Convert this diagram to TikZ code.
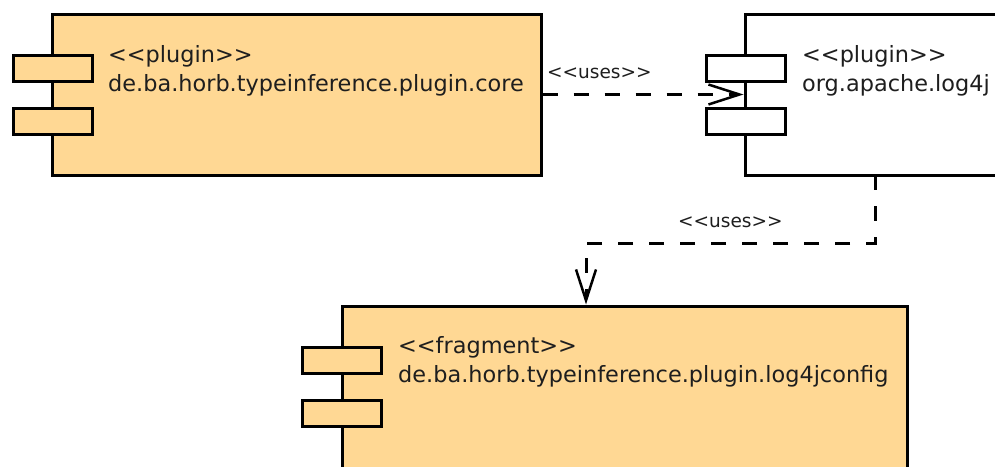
\documentclass[tikz,border=0pt]{standalone}
\usepackage{fontspec}
\setmainfont{DejaVu Sans}[Ligatures=TeXOff]
\usetikzlibrary{arrows.meta}
\definecolor{compfill}{RGB}{255,216,148}
\definecolor{txt}{RGB}{30,30,30}
\tikzset{
  comp/.style={draw=black, line width=3pt, fill=compfill, rectangle, inner sep=0pt},
  compw/.style={draw=black, line width=3pt, fill=white, rectangle, inner sep=0pt},
  tab/.style={draw=black, line width=3pt, rectangle, inner sep=0pt, minimum width=79pt, minimum height=26pt},
  lbl/.style={anchor=base west, inner sep=0pt, text=txt, font=\fontsize{22.4}{27}\selectfont},
  ulbl/.style={anchor=base west, inner sep=0pt, text=txt, font=\fontsize{18.5}{23}\selectfont},
  uses/.style={draw=black, line width=3pt, dash pattern=on 15pt off 16pt,
    -{Straight Barb[length=31pt,width=20pt,line width=2.5pt]}}
}
\begin{document}
\begin{tikzpicture}[x=1pt,y=-1pt]
\useasboundingbox (0,0) rectangle (995,466);
\clip (0,0) rectangle (995,466);
\fill[white] (0,0) rectangle (995,466);
% component boxes
\node[comp, minimum width=489pt, minimum height=161pt] (core) at (296.5,94.5) {};
\node[compw, minimum width=280pt, minimum height=161pt] (log) at (885,94.5) {};
\node[comp, minimum width=565pt, minimum height=230pt] (frag) at (624.5,421) {};
% tabs
\node[tab, fill=compfill] (coret1) at (52.5,68) {};
\node[tab, fill=compfill] (coret2) at (52.5,121.5) {};
\node[tab, fill=white] (logt1) at (746,68) {};
\node[tab, fill=white] (logt2) at (746,121.5) {};
\node[tab, fill=compfill] (fragt1) at (342,360.5) {};
\node[tab, fill=compfill] (fragt2) at (342,413.5) {};
% texts
\node[lbl] (coreS) at (108,62) {<<plugin>>};
\node[lbl] (coreN) at (108,91) {de.ba.horb.typeinference.plugin.core};
\node[lbl] (logS) at (802,62) {<<plugin>>};
\node[lbl] (logN) at (802,91) {org.apache.log4j};
\node[lbl] (fragS) at (398,353) {<<fragment>>};
\node[lbl] (fragN) at (398,382) {de.ba.horb.typeinference.plugin.log4jconfig};
% connectors
\draw[uses] (core.east) -- (log.west);
\node[ulbl] (u1) at (547,78) {<<uses>>};
\coordinate (s2) at (875,175);
\coordinate (b2) at (586,243);
\draw[uses] (s2) |- (b2) -- (frag.north -| b2);
\node[ulbl] (u2) at (678,227) {<<uses>>};
\end{tikzpicture}
\end{document}
